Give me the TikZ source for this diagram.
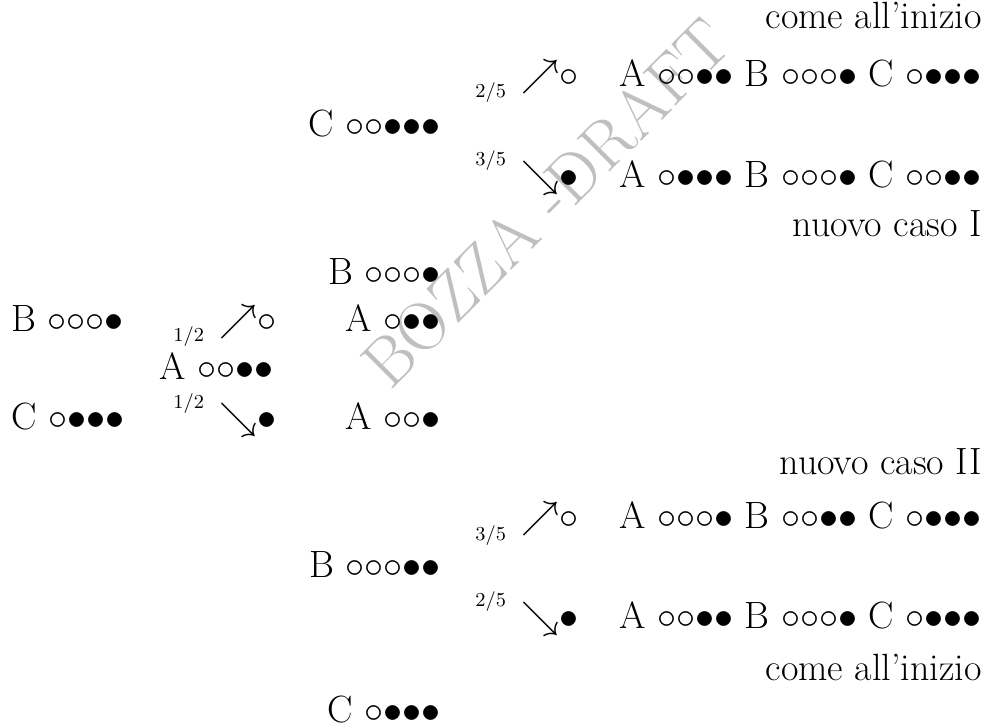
\documentclass[tikz,border=0pt]{standalone}
\newcommand\wb{{\circ}}
\newcommand\nb{{\bullet}}
\newcommand\up{\mathord{\nearrow}}
\newcommand\dn{\mathord{\searrow}}
\tikzset{
  cell/.style={inner sep=0pt, font=\fontsize{17.28}{21}\selectfont},
  prob/.style={inner sep=0pt, font=\fontsize{8.64}{10}\selectfont},
  wmark/.style={inner sep=0pt, text=black!25, font=\fontsize{31}{31}\selectfont}
}
\begin{document}
\begin{tikzpicture}[x=0.4547pt,y=-0.4547pt]
\useasboundingbox (0,0) rectangle (984,725);

% watermark
\node[wmark, rotate=45] (wm) at (546,203) {BOZZA -DRAFT};

% initial urns and first draw
\node[cell, anchor=base west] (b0) at (11,332) {B $\wb\wb\wb\nb$};
\node[cell, anchor=base west] (c0) at (11,430) {C $\wb\nb\nb\nb$};
\node[cell, anchor=base west] (a0) at (159,380) {A $\wb\wb\nb\nb$};
\node[prob, anchor=base west] (p1) at (173,342) {$1/2$};
\node[prob, anchor=base west] (p2) at (173,409) {$1/2$};
\node[cell, anchor=base west] (u1) at (219,332) {$\up\wb$};
\node[cell, anchor=base west] (d1) at (219,430) {$\dn\nb$};

% middle column
\node[cell, anchor=base east] (cw) at (441,137) {C $\wb\wb\nb\nb\nb$};
\node[cell, anchor=base east] (bw) at (441,285) {B $\wb\wb\wb\nb$};
\node[cell, anchor=base east] (aw) at (441,332) {A $\wb\nb\nb$};
\node[cell, anchor=base east] (ab) at (441,430) {A $\wb\wb\nb$};
\node[cell, anchor=base east] (bb) at (441,577) {B $\wb\wb\wb\nb\nb$};
\node[cell, anchor=base east] (cb) at (441,722) {C $\wb\nb\nb\nb$};

% second draw, upper branch
\node[prob, anchor=base west] (p3) at (475,98) {$2/5$};
\node[prob, anchor=base west] (p4) at (475,166) {$3/5$};
\node[cell, anchor=base west] (u2) at (521,87) {$\up\wb$};
\node[cell, anchor=base west] (d2) at (521,188) {$\dn\nb$};

% second draw, lower branch
\node[prob, anchor=base west] (p5) at (475,540) {$3/5$};
\node[prob, anchor=base west] (p6) at (475,606) {$2/5$};
\node[cell, anchor=base west] (u3) at (521,528) {$\up\wb$};
\node[cell, anchor=base west] (d3) at (521,628) {$\dn\nb$};

% outcomes
\node[cell, anchor=base east] (t1) at (982,29) {come all'inizio};
\node[cell, anchor=base east] (r1) at (982,87) {A $\wb\wb\nb\nb$ B $\wb\wb\wb\nb$ C $\wb\nb\nb\nb$};
\node[cell, anchor=base east] (r2) at (982,188) {A $\wb\nb\nb\nb$ B $\wb\wb\wb\nb$ C $\wb\wb\nb\nb$};
\node[cell, anchor=base east] (t2) at (982,237) {nuovo caso I};
\node[cell, anchor=base east] (t3) at (982,475) {nuovo caso II};
\node[cell, anchor=base east] (r3) at (982,528) {A $\wb\wb\wb\nb$ B $\wb\wb\nb\nb$ C $\wb\nb\nb\nb$};
\node[cell, anchor=base east] (r4) at (982,628) {A $\wb\wb\nb\nb$ B $\wb\wb\wb\nb$ C $\wb\nb\nb\nb$};
\node[cell, anchor=base east] (t4) at (982,680) {come all'inizio};
\end{tikzpicture}
\end{document}
